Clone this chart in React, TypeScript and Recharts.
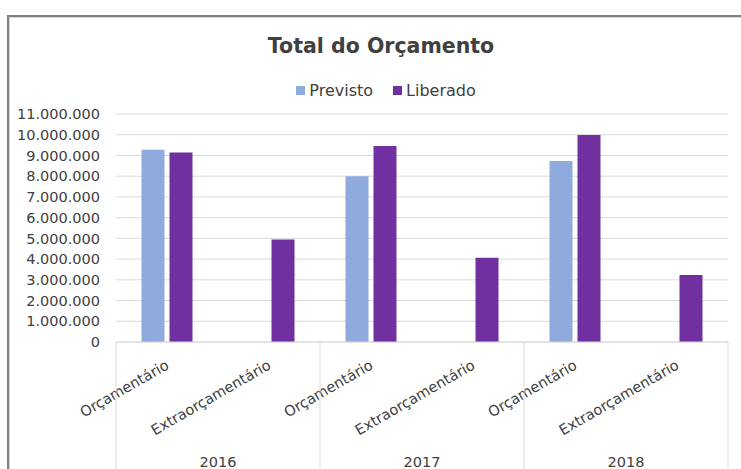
import React from 'react';
import { BarChart, Bar, XAxis, YAxis, CartesianGrid, Legend } from 'recharts';

const years = ['2016', '2017', '2018'];
const types = ['Orçamentário', 'Extraorçamentário'];
const seriesNames = ['Previsto', 'Liberado'];
const previsto: (number | null)[] = [9280000, null, 8000000, null, 8730000, null];
const liberado: number[] = [9140000, 4950000, 9460000, 4070000, 9990000, 3230000];
const yTicks = [0, 1000000, 2000000, 3000000, 4000000, 5000000, 6000000, 7000000, 8000000, 9000000, 10000000, 11000000];

const data = liberado.map((v, i) => ({
  key: `${years[Math.floor(i / 2)]}-${i % 2}`,
  year: years[Math.floor(i / 2)],
  type: types[i % 2],
  previsto: previsto[i],
  liberado: v,
}));

const FONT = "'DejaVu Sans', sans-serif";
const TEXT = '#404040';
const GRID = '#d9d9d9';
const C_PREV = '#8FAADC';
const C_LIB = '#7030A0';

const fmt = (v: number) => String(v).replace(/\B(?=(\d{3})+(?!\d))/g, '.');

const CatTick = (props: any) => {
  const { x, y, payload, index } = props;
  const half = payload && payload.offset ? payload.offset : 51;
  const d = data[index];
  const isFirst = index % 2 === 0;
  const isLast = index === data.length - 1;
  const ax = x + 3;
  const ay = y + 26;
  return (
    <g>
      <text
        x={ax}
        y={ay}
        textAnchor="end"
        fill={TEXT}
        fontSize={14.5}
        fontFamily={FONT}
        transform={`rotate(-30, ${ax}, ${ay})`}
      >
        {d ? d.type : ''}
      </text>
      {isFirst && (
        <line x1={x - half} x2={x - half} y1={y} y2={y + 140} stroke={GRID} strokeWidth={1} />
      )}
      {isLast && (
        <line x1={x + half} x2={x + half} y1={y} y2={y + 140} stroke={GRID} strokeWidth={1} />
      )}
      {isFirst && (
        <text x={x + half} y={y + 125} textAnchor="middle" fill={TEXT} fontSize={14.5} fontFamily={FONT}>
          {d ? d.year : ''}
        </text>
      )}
    </g>
  );
};

const LegendContent = (props: any) => {
  const items = [...(props.payload || [])].sort(
    (a: any, b: any) => seriesNames.indexOf(a.value) - seriesNames.indexOf(b.value)
  );
  return (
    <div style={{ display: 'flex', justifyContent: 'center', alignItems: 'center', height: 20, fontFamily: FONT, fontSize: 16, color: TEXT }}>
      {items.map((it: any, i: number) => (
        <div key={i} style={{ display: 'flex', alignItems: 'center', marginLeft: i === 0 ? 0 : 20 }}>
          <span style={{ display: 'inline-block', width: 9, height: 9, background: it.color, marginRight: 4 }} />
          <span>{it.value}</span>
        </div>
      ))}
    </div>
  );
};

export default function App() {
  return (
    <div style={{ position: 'absolute', left: 0, top: 0, width: 741, height: 469, overflow: 'hidden', background: '#fff' }}>
      <div
        style={{
          position: 'absolute',
          left: 7,
          top: 15,
          width: 800,
          height: 500,
          border: '2px solid #808080',
          boxShadow: 'inset 1px 1px 0 #d4d4d4',
          boxSizing: 'border-box',
        }}
      />
      <div style={{ position: 'absolute', left: 0, top: 0 }}>
        <BarChart
          width={741}
          height={469}
          data={data}
          margin={{ top: 114, right: 13, bottom: 0, left: 0 }}
          barCategoryGap="25%"
          barGap={5}
        >
          <CartesianGrid vertical={false} stroke={GRID} />
          <XAxis
            dataKey="key"
            height={127}
            tickSize={0}
            tickMargin={0}
            tickLine={false}
            axisLine={{ stroke: GRID }}
            interval={0}
            tick={<CatTick />}
          />
          <YAxis
            width={116}
            domain={[0, 11000000]}
            ticks={yTicks}
            interval={0}
            tickSize={0}
            tickMargin={16}
            axisLine={false}
            tickLine={false}
            tickFormatter={fmt}
            tick={{ fill: TEXT, fontSize: 14.5, fontFamily: FONT }}
          />
          <Legend
            verticalAlign="middle"
            align="center"
            content={<LegendContent />}
            wrapperStyle={{ top: 80, left: 0, width: 772, bottom: 'auto', right: 'auto' }}
          />
          <Bar dataKey="previsto" name={seriesNames[0]} fill={C_PREV} isAnimationActive={false} />
          <Bar dataKey="liberado" name={seriesNames[1]} fill={C_LIB} isAnimationActive={false} />
        </BarChart>
      </div>
      <svg width={741} height={469} style={{ position: 'absolute', left: 0, top: 0, pointerEvents: 'none' }}>
        <text x={381} y={53} textAnchor="middle" fill={TEXT} fontSize={20.5} fontWeight="bold" fontFamily={FONT}>
          Total do Orçamento
        </text>
      </svg>
    </div>
  );
}
